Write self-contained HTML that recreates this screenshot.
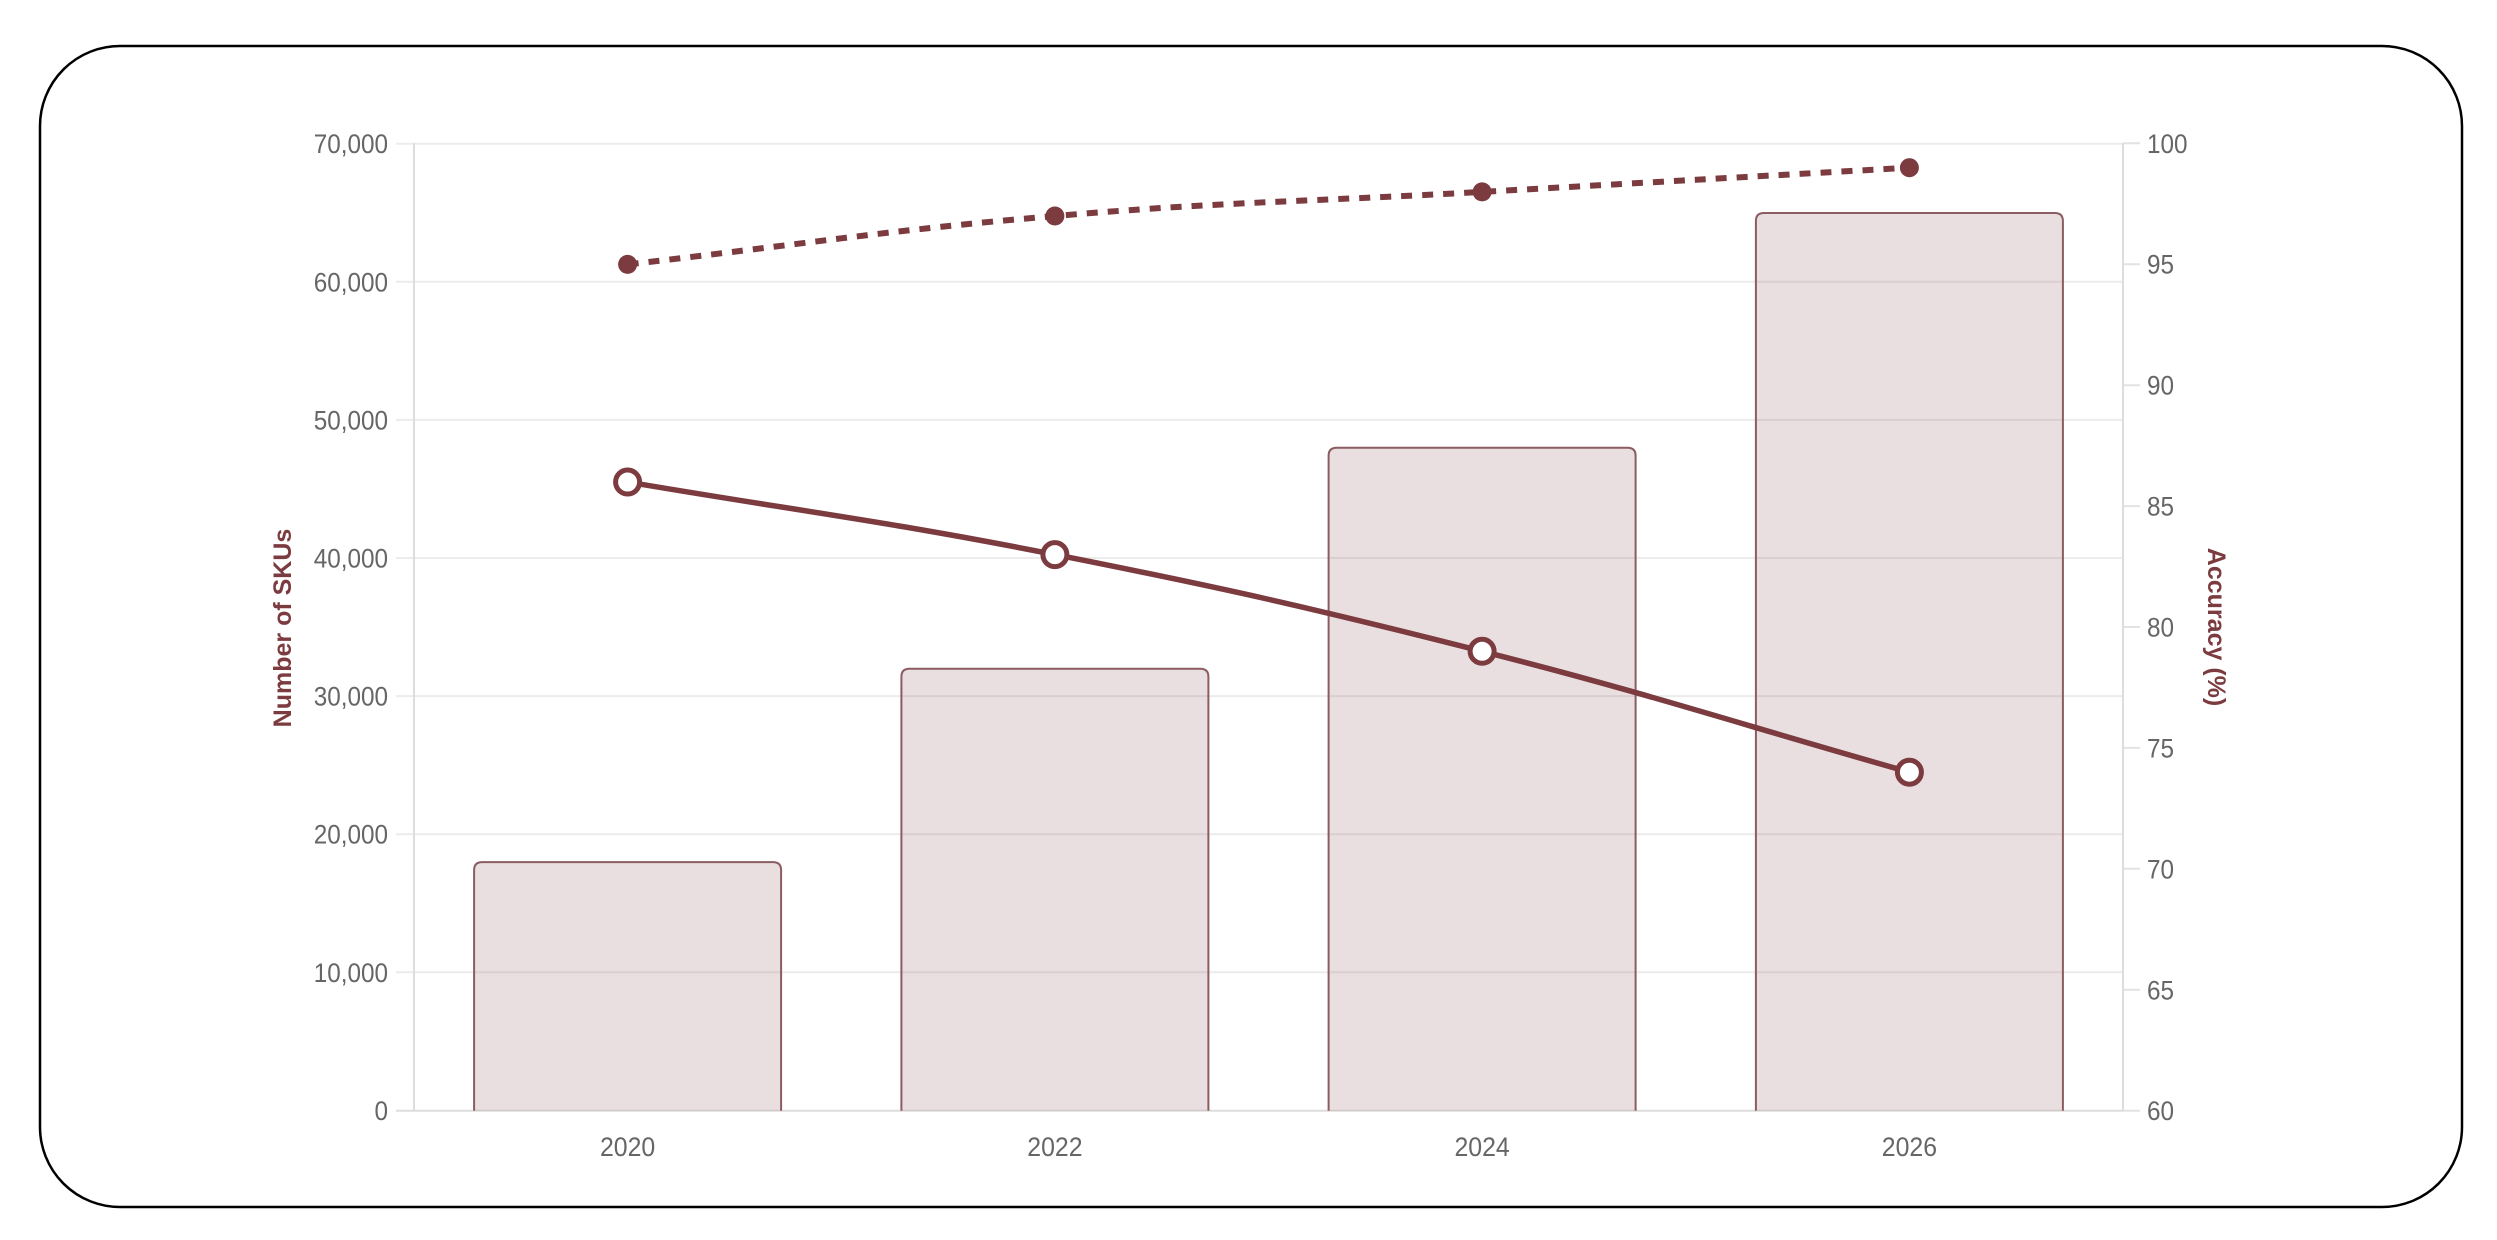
<!DOCTYPE html>
<html>
<head>
<meta charset="utf-8">
<style>
  html, body { margin: 0; padding: 0; background: #ffffff; }
  svg { display: block; }
  text { font-family: "Liberation Sans", "DejaVu Sans", sans-serif; }
</style>
</head>
<body>
<svg width="2497" height="1240" viewBox="0 0 2497 1240" xmlns="http://www.w3.org/2000/svg">
  <rect x="0" y="0" width="2497" height="1240" fill="#ffffff"/>
  <!-- outer rounded frame -->
  <rect x="40" y="46" width="2422" height="1161" rx="80" ry="80" fill="none" stroke="#000" stroke-width="2.5"/>

  <!-- horizontal gridlines (left axis) -->
  <g stroke="#ececec" stroke-width="2">
    <line x1="396" y1="143.7" x2="2123" y2="143.7"/>
    <line x1="396" y1="281.8" x2="2123" y2="281.8"/>
    <line x1="396" y1="419.9" x2="2123" y2="419.9"/>
    <line x1="396" y1="558.0" x2="2123" y2="558.0"/>
    <line x1="396" y1="696.1" x2="2123" y2="696.1"/>
    <line x1="396" y1="834.2" x2="2123" y2="834.2"/>
    <line x1="396" y1="972.3" x2="2123" y2="972.3"/>
  </g>
  <!-- right axis ticks -->
  <g stroke="#e2e2e2" stroke-width="2">
    <line x1="2123" y1="143.3" x2="2140" y2="143.3"/>
    <line x1="2123" y1="264.2" x2="2140" y2="264.2"/>
    <line x1="2123" y1="385.2" x2="2140" y2="385.2"/>
    <line x1="2123" y1="506.1" x2="2140" y2="506.1"/>
    <line x1="2123" y1="627.0" x2="2140" y2="627.0"/>
    <line x1="2123" y1="747.9" x2="2140" y2="747.9"/>
    <line x1="2123" y1="868.8" x2="2140" y2="868.8"/>
    <line x1="2123" y1="989.8" x2="2140" y2="989.8"/>
    <line x1="2123" y1="1110.7" x2="2140" y2="1110.7"/>
  </g>
  <!-- axis lines -->
  <g stroke="#dddddd" stroke-width="2">
    <line x1="414" y1="143" x2="414" y2="1111"/>
    <line x1="2123" y1="143" x2="2123" y2="1111"/>
    <line x1="396" y1="1110.7" x2="2123" y2="1110.7"/>
  </g>

  <!-- bars -->
  <g fill="rgba(123,59,63,0.16)" stroke="#8b5c61" stroke-width="2">
    <path d="M474.1,1110.7 V870.1 Q474.1,862.1 482.1,862.1 H773.1 Q781.1,862.1 781.1,870.1 V1110.7"/>
    <path d="M901.4,1110.7 V676.8 Q901.4,668.8 909.4,668.8 H1200.4 Q1208.4,668.8 1208.4,676.8 V1110.7"/>
    <path d="M1328.6,1110.7 V455.8 Q1328.6,447.8 1336.6,447.8 H1627.6 Q1635.6,447.8 1635.6,455.8 V1110.7"/>
    <path d="M1755.9,1110.7 V221.0 Q1755.9,213.0 1763.9,213.0 H2054.9 Q2062.9,213.0 2062.9,221.0 V1110.7"/>
  </g>

  <!-- dotted line (upper) -->
  <path d="M627.6,264.4 C798.5,245.0 883.6,230.5 1054.9,216.0 C1225.4,201.5 1311.2,201.6 1482.1,191.9 C1653.0,182.2 1738.5,177.4 1909.4,167.7" fill="none" stroke="#7b3b3f" stroke-width="6" stroke-dasharray="11 10"/>
  <g fill="#7b3b3f">
    <circle cx="627.6" cy="264.4" r="9.5"/>
    <circle cx="1054.9" cy="216.0" r="9.5"/>
    <circle cx="1482.1" cy="191.9" r="9.5"/>
    <circle cx="1909.4" cy="167.7" r="9.5"/>
  </g>

  <!-- solid line -->
  <path d="M627.6,482.0 C798.5,511.0 884.9,520.9 1054.9,554.6 C1226.7,588.6 1312.4,608.1 1482.1,651.3 C1654.2,695.1 1738.5,723.8 1909.4,772.2" fill="none" stroke="#7b3b3f" stroke-width="5.5" stroke-linejoin="round"/>
  <g fill="#ffffff" stroke="#7b3b3f" stroke-width="5">
    <circle cx="627.6" cy="482.0" r="12"/>
    <circle cx="1054.9" cy="554.6" r="12"/>
    <circle cx="1482.1" cy="651.3" r="12"/>
    <circle cx="1909.4" cy="772.2" r="12"/>
  </g>

  <!-- left tick labels -->
  <g fill="#666666" font-size="27" text-anchor="end" transform="translate(388,0) scale(0.9,1)">
    <text x="0" y="153.2">70,000</text>
    <text x="0" y="291.3">60,000</text>
    <text x="0" y="429.4">50,000</text>
    <text x="0" y="567.5">40,000</text>
    <text x="0" y="705.6">30,000</text>
    <text x="0" y="843.7">20,000</text>
    <text x="0" y="981.8">10,000</text>
    <text x="0" y="1120.2">0</text>
  </g>
  <!-- right tick labels -->
  <g fill="#666666" font-size="27" text-anchor="start" transform="translate(2147,0) scale(0.9,1)">
    <text x="0" y="152.8">100</text>
    <text x="0" y="273.7">95</text>
    <text x="0" y="394.7">90</text>
    <text x="0" y="515.6">85</text>
    <text x="0" y="636.5">80</text>
    <text x="0" y="757.4">75</text>
    <text x="0" y="878.3">70</text>
    <text x="0" y="999.3">65</text>
    <text x="0" y="1120.2">60</text>
  </g>
  <!-- x labels -->
  <g fill="#666666" font-size="27" text-anchor="middle">
    <text x="0" y="1156" transform="translate(627.6,0) scale(0.92,1)">2020</text>
    <text x="0" y="1156" transform="translate(1054.9,0) scale(0.92,1)">2022</text>
    <text x="0" y="1156" transform="translate(1482.1,0) scale(0.92,1)">2024</text>
    <text x="0" y="1156" transform="translate(1909.4,0) scale(0.92,1)">2026</text>
  </g>

  <!-- axis titles -->
  <text x="0" y="0" font-size="25" font-weight="bold" fill="#7b3b3f" text-anchor="middle" transform="translate(291,628) rotate(-90)">Number of SKUs</text>
  <text x="0" y="0" font-size="25" font-weight="bold" fill="#7b3b3f" text-anchor="middle" transform="translate(2208,627) rotate(90)">Accuracy (%)</text>
</svg>
</body>
</html>
